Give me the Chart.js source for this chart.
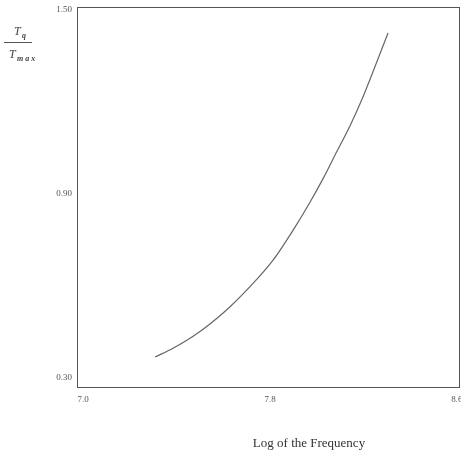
<!DOCTYPE html>
<html>
<head>
<meta charset="utf-8">
<script src="https://cdn.jsdelivr.net/npm/chart.js@4/dist/chart.umd.min.js"></script>
<style>
  html, body { margin: 0; padding: 0; background: #fff; overflow: hidden; }
  #wrap { width: 461px; height: 455px; position: relative; }
</style>
</head>
<body>
<div id="wrap"><canvas id="freqChart"></canvas></div>
<script>
// ── Données ───────────────────────────────────────────────────────────────
const LOG_FREQ = [7.308, 7.385, 7.471, 7.543, 7.629, 7.744, 7.813, 7.907, 7.971, 8.027, 8.087, 8.142, 8.194, 8.249, 8.305];
const TORQUE_RATIO = [0.368, 0.397, 0.436, 0.476, 0.532, 0.622, 0.684, 0.792, 0.873, 0.950, 1.040, 1.122, 1.210, 1.315, 1.425];
const X_TICKS = [7.0, 7.8, 8.6];
const Y_TICKS = [0.30, 0.90, 1.50];

const INK = '#555';
const SERIF = '"Liberation Serif", "DejaVu Serif", serif';

// cadre + titres (fraction Tq / Tmax, titre de l'axe x)
const framePlugin = {
  id: 'frame',
  afterDraw(chart) {
    const { ctx, chartArea: a } = chart;
    ctx.save();
    ctx.strokeStyle = INK;
    ctx.lineWidth = 1;
    ctx.strokeRect(a.left + 0.5, a.top + 0.5, a.right - a.left - 1, a.bottom - a.top - 1);

    ctx.fillStyle = '#444';
    ctx.textBaseline = 'alphabetic';
    // numérateur
    ctx.font = `italic 12px ${SERIF}`;
    ctx.fillText('T', 14, 35);
    ctx.font = `bold italic 8px ${SERIF}`;
    ctx.fillText('q', 22, 38);
    // barre
    ctx.beginPath();
    ctx.moveTo(4, 42.5); ctx.lineTo(32, 42.5);
    ctx.stroke();
    // dénominateur
    ctx.font = `italic 12px ${SERIF}`;
    ctx.fillText('T', 9, 58);
    ctx.font = `bold italic 8px ${SERIF}`;
    ctx.fillText('m a x', 17, 61);

    ctx.font = `13px ${SERIF}`;
    ctx.textAlign = 'center';
    ctx.fillStyle = '#333';
    ctx.fillText('Log of the Frequency', 309, 447);
    ctx.restore();
  },
};

new Chart(document.getElementById('freqChart'), {
  type: 'line',
  data: {
    datasets: [{
      data: LOG_FREQ.map((x, i) => ({ x, y: TORQUE_RATIO[i] })),
      borderColor: '#666',
      borderWidth: 1.2,
      pointRadius: 0,
      cubicInterpolationMode: 'monotone',
      fill: false,
    }],
  },
  options: {
    responsive: true, maintainAspectRatio: false,
    animation: false,
    layout: { padding: { top: 7, right: 1, left: 0, bottom: 0 } },
    plugins: { legend: { display: false }, tooltip: { enabled: false } },
    scales: {
      x: {
        type: 'linear',
        min: 6.974, max: 8.613,
        afterBuildTicks: s => { s.ticks = X_TICKS.map(v => ({ value: v })); },
        afterFit: s => { s.height = 67; s.paddingRight = 0; s.paddingLeft = 0; },
        grid: { display: false, drawTicks: false },
        border: { display: false },
        ticks: {
          color: '#555', padding: 6, maxRotation: 0,
          font: { family: SERIF, size: 9 },
          callback: v => v.toFixed(1),
        },
      },
      y: {
        type: 'linear',
        min: 0.267, max: 1.51,
        afterBuildTicks: s => { s.ticks = Y_TICKS.map(v => ({ value: v })); },
        afterFit: s => { s.width = 77; s.paddingTop = 0; s.paddingBottom = 0; },
        grid: { display: false, drawTicks: false },
        border: { display: false },
        ticks: {
          color: '#555', padding: 5,
          font: { family: SERIF, size: 9 },
          callback: v => v.toFixed(2),
        },
      },
    },
  },
  plugins: [framePlugin],
});
</script>
</body>
</html>
